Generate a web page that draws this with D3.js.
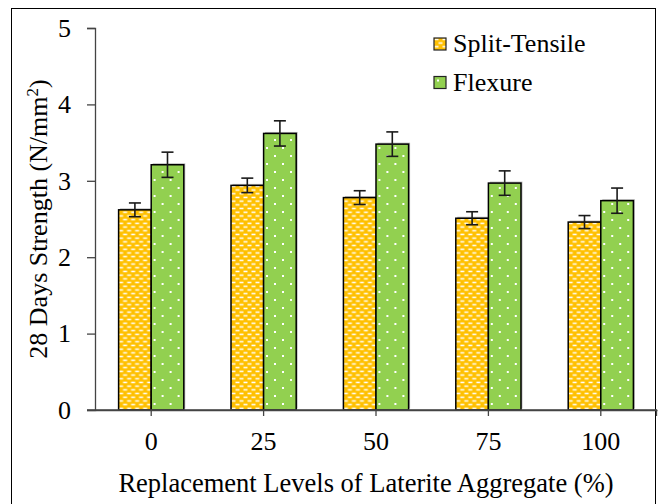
<!DOCTYPE html>
<html>
<head>
<meta charset="utf-8">
<script src="https://cdn.jsdelivr.net/npm/d3@7"></script>
<style>
  body { margin: 0; background: #fff; }
</style>
</head>
<body>
<svg id="chart" width="659" height="504"></svg>
<script>
// Data
var levels = ["0", "25", "50", "75", "100"];
var seriesNames = ["Split-Tensile", "Flexure"];
var splitValues = [2.62, 2.94, 2.78, 2.51, 2.46];
var splitErrors = [0.09, 0.095, 0.09, 0.085, 0.085];
var flexValues = [3.21, 3.62, 3.48, 2.97, 2.74];
var flexErrors = [0.165, 0.165, 0.16, 0.16, 0.165];
var yTicks = [0, 1, 2, 3, 4, 5];

var serif = "Liberation Serif";
var svg = d3.select("#chart");

// fill patterns like the excel ones
var defs = svg.append("defs");
var brick = defs.append("pattern")
  .attr("id", "brick").attr("patternUnits", "userSpaceOnUse")
  .attr("width", 8).attr("height", 7.4);
brick.append("rect").attr("width", 8).attr("height", 7.4).attr("fill", "#FFC000");
brick.append("rect").attr("x", 0.5).attr("y", 0.6).attr("width", 4).attr("height", 1.5).attr("fill", "#fff");
brick.append("rect").attr("x", 4.5).attr("y", 4.3).attr("width", 4).attr("height", 1.5).attr("fill", "#fff");
brick.append("rect").attr("x", -3.5).attr("y", 4.3).attr("width", 4).attr("height", 1.5).attr("fill", "#fff");

var dots = defs.append("pattern")
  .attr("id", "dots").attr("patternUnits", "userSpaceOnUse")
  .attr("width", 16).attr("height", 16);
dots.append("rect").attr("width", 16).attr("height", 16).attr("fill", "#92D050");
dots.append("rect").attr("x", 3).attr("y", 3).attr("width", 2).attr("height", 2).attr("fill", "#fff");
dots.append("rect").attr("x", 11).attr("y", 11).attr("width", 2).attr("height", 2).attr("fill", "#fff");

var fills = { "Split-Tensile": "url(#brick)", "Flexure": "url(#dots)" };

// outer frame
svg.append("rect")
  .attr("x", 11.5).attr("y", 8.5).attr("width", 644).attr("height", 510)
  .attr("fill", "none").attr("stroke", "#000").attr("stroke-width", 1);

var x0 = d3.scaleBand().domain(levels).range([95, 657]).paddingInner(0.42).paddingOuter(0.21);
var x1 = d3.scaleBand().domain(seriesNames).range([0, x0.bandwidth()]);
var y = d3.scaleLinear().domain([0, 5]).range([410, 28]);

var rows = levels.map(function(l, i) {
  return [
    { level: l, name: "Split-Tensile", value: splitValues[i], err: splitErrors[i] },
    { level: l, name: "Flexure", value: flexValues[i], err: flexErrors[i] }
  ];
});

// y axis
var yAxis = svg.append("g")
  .attr("transform", "translate(95,0)")
  .call(d3.axisLeft(y).tickValues(yTicks).tickFormat(d3.format("d")).tickSize(8).tickPadding(16));
yAxis.attr("font-family", serif).attr("font-size", 26);
yAxis.selectAll("text").attr("fill", "#000");
yAxis.select(".domain").attr("stroke", "#444").attr("stroke-width", 1.3);
yAxis.selectAll(".tick line").attr("stroke", "#444").attr("stroke-width", 1.3);

var groups = svg.selectAll(".grp")
  .data(rows)
  .enter().append("g")
  .attr("class", "grp")
  .attr("transform", function(d) { return "translate(" + x0(d[0].level) + ",0)"; });

// little shadow like excel draws
groups.selectAll(".shadow")
  .data(function(d) { return d; })
  .enter().append("rect")
  .attr("x", function(d) { return x1(d.name) + 1.5; })
  .attr("y", function(d) { return y(d.value) - 1.5; })
  .attr("width", x1.bandwidth())
  .attr("height", function(d) { return 410 - y(d.value); })
  .attr("fill", "#bbb");

groups.selectAll(".bar")
  .data(function(d) { return d; })
  .enter().append("rect")
  .attr("class", "bar")
  .attr("x", function(d) { return x1(d.name); })
  .attr("y", function(d) { return y(d.value); })
  .attr("width", x1.bandwidth())
  .attr("height", function(d) { return 410 - y(d.value); })
  .attr("fill", function(d) { return fills[d.name]; })
  .attr("stroke", "#000")
  .attr("stroke-width", 1.5);

// error bars
var errs = groups.selectAll(".err")
  .data(function(d) { return d; })
  .enter().append("g")
  .attr("class", "err")
  .attr("stroke", "#1a1a1a")
  .attr("stroke-width", 1.6);
errs.append("line")
  .attr("x1", function(d) { return x1(d.name) + x1.bandwidth() / 2; })
  .attr("x2", function(d) { return x1(d.name) + x1.bandwidth() / 2; })
  .attr("y1", function(d) { return y(d.value + d.err); })
  .attr("y2", function(d) { return y(d.value - d.err); });
[1, -1].forEach(function(s) {
  errs.append("line")
    .attr("x1", function(d) { return x1(d.name) + x1.bandwidth() / 2 - 6; })
    .attr("x2", function(d) { return x1(d.name) + x1.bandwidth() / 2 + 6; })
    .attr("y1", function(d) { return y(d.value + s * d.err); })
    .attr("y2", function(d) { return y(d.value + s * d.err); });
});

// x axis
var xAxis = svg.append("g")
  .attr("transform", "translate(0,410)")
  .call(d3.axisBottom(x0).tickSize(6).tickPadding(15.5).tickSizeOuter(0));
xAxis.attr("font-family", serif).attr("font-size", 26);
xAxis.selectAll("text").attr("fill", "#000");
xAxis.select(".domain").attr("stroke", "#444").attr("stroke-width", 1.3);
xAxis.selectAll(".tick line").attr("stroke", "#444").attr("stroke-width", 1.3);
xAxis.append("line").attr("x1", 87).attr("x2", 657).attr("y1", 0).attr("y2", 0)
  .attr("stroke", "#444").attr("stroke-width", 1.3);
xAxis.append("line").attr("x1", 656.5).attr("x2", 656.5).attr("y1", 0).attr("y2", 6)
  .attr("stroke", "#444").attr("stroke-width", 1.3);

// axis titles
svg.append("text")
  .attr("x", 366).attr("y", 492)
  .attr("text-anchor", "middle")
  .attr("font-family", serif)
  .attr("font-size", 26.5)
  .text("Replacement Levels of Laterite Aggregate (%)");

var yt = svg.append("text")
  .attr("transform", "translate(47,219) rotate(-90)")
  .attr("text-anchor", "middle")
  .attr("font-family", serif)
  .attr("font-size", 26);
yt.append("tspan").text("28 Days Strength (N/mm");
yt.append("tspan").attr("baseline-shift", "super").attr("font-size", 17).text("2");
yt.append("tspan").text(")");

// legend
var legend = svg.selectAll(".legend")
  .data(seriesNames)
  .enter().append("g")
  .attr("class", "legend")
  .attr("transform", function(d, i) { return "translate(434," + (38 + i * 38.5) + ")"; });
legend.append("rect")
  .attr("width", 12).attr("height", 12)
  .attr("fill", function(d) { return fills[d]; })
  .attr("stroke", "#222").attr("stroke-width", 1.2);
legend.append("text")
  .attr("x", 19).attr("y", 14)
  .attr("font-family", serif)
  .attr("font-size", 26)
  .text(function(d) { return d; });
</script>
</body>
</html>
